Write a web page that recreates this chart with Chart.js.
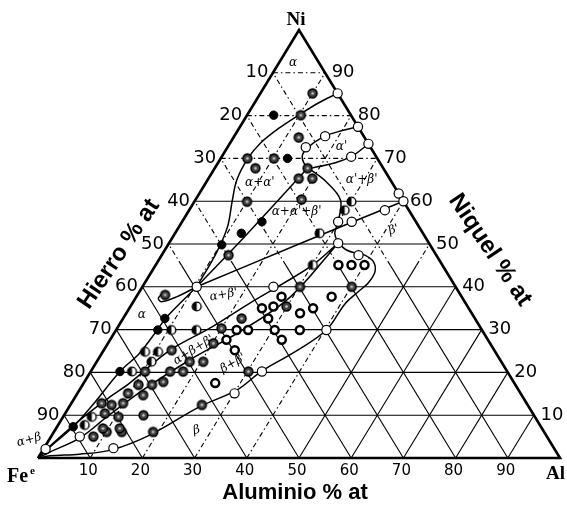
<!DOCTYPE html>
<html>
<head>
<meta charset="utf-8">
<script src="https://cdn.jsdelivr.net/npm/chart.js@4.4.0/dist/chart.umd.min.js"></script>
<style>
  html, body { margin: 0; padding: 0; background: #fff; }
  canvas { display: block; }
</style>
</head>
<body>
<canvas id="ternary" width="567" height="510"></canvas>
<script>
// Fe-Ni-Al diagram. Every composition is [Al %, Ni %], Fe is what is left.
const gridSteps = [10, 20, 30, 40, 50, 60, 70, 80, 90];
const feTickLabels = ['10', '20', '30', '40', '50', '60', '70', '80', '90'];
const niTickLabels = ['90', '80', '70', '60', '50', '40', '30', '20', '10'];
const alTickLabels = ['10', '20', '30', '40', '50', '60', '70', '80', '90'];

// alloys examined, grouped by how the sample was marked
const openPts = [
  [14.8, 85.2], [22.6, 77.4], [26.6, 73.4], [17.4, 75.2], [24.8, 70.4], [15, 72.6],
  [38.2, 61.8], [40, 60], [37.5, 57.9], [29.9, 55.2], [32.5, 55.2], [32.4, 50.2],
  [37.7, 47.4], [10.4, 40], [25.1, 40], [40.3, 29.9], [32.8, 20.2], [30.1, 15.1],
  [13.3, 2.3], [0.4, 2.1], [5.5, 5]
];
const filledPts = [
  [5.1, 80.1], [12.8, 70], [15.3, 55.2], [12.7, 52.5], [10.3, 49.8], [8, 32.6],
  [8, 29.9], [5.6, 20.2], [3.1, 7.3]
];
const halfPts = [
  [30.1, 59.9], [29.8, 57.9], [27.7, 52.5], [30.1, 45.1], [12.7, 35.4], [10.6, 29.9],
  [15.4, 29.9], [8.1, 24.8], [10.6, 24.8], [10.5, 22.5], [7.9, 20.2], [5.1, 7.7], [5.5, 9.6]
];
const hatchedPts = [
  [10, 85.2], [10.3, 80.1], [12.5, 74.9], [5.1, 70], [10.2, 70], [7.8, 67.7], [17.8, 67.7],
  [17.3, 65.3], [19.9, 65.3], [10.1, 59.9], [20.3, 60.4], [12.8, 47.4], [5.3, 38.1],
  [30.2, 40], [40.1, 40], [29.9, 35.4], [22.7, 32.6], [20, 30.3], [13, 25.2], [20.2, 26.8],
  [20.4, 22.5], [17.8, 22.5], [10.4, 20.2], [15.2, 20.2], [17.7, 20.2], [30.2, 20.2],
  [25.2, 12.4], [15.1, 17.8], [13.3, 17.1], [10.7, 17.1], [9.7, 15.1], [12.8, 14.7],
  [9.9, 12.8], [7.9, 12.4], [5.8, 12.8], [15.2, 10], [7.6, 10.4], [10.6, 9.6], [19, 6.1],
  [13, 6.1], [10.1, 6.1], [9, 6.9], [12.2, 6.9], [8.1, 5]
];
const ringPts = [
  [27.8, 37.7], [25.4, 35], [27.4, 35.4], [33.3, 33.8], [35.2, 35], [27.8, 32.6],
  [23.1, 29.9], [25.3, 29.9], [30.4, 29.9], [35.2, 29.9], [22.3, 27.6], [32.9, 27.6],
  [25.1, 25.2], [25.2, 17.5], [35, 45.1], [37.5, 45.1], [40, 45.1], [37.4, 37.7]
];

// phase boundaries
const alphaUpper = [[14.8, 85.2], [12.3, 83], [10.2, 80.5], [7.6, 77], [5.8, 73.5], [5.2, 70],
  [5.6, 65], [7.2, 60], [9.3, 54], [10.2, 48], [10.4, 40]];
const alphaLower = [[10.4, 40], [8.2, 33], [7.9, 30], [7.2, 24.5], [5.6, 20.2], [4.4, 13.1],
  [3.1, 7.3], [1, 2.6], [0, 0]];
const alphaHook = [[10.4, 40], [7.8, 37.7], [5.4, 36.5], [4.4, 37.3], [4.6, 38.3]];
const tieAlphaAlpha2 = [[10.4, 40], [13.8, 52], [17.8, 67.8]];
const tieAlphaBeta2 = [[10.4, 40], [25, 50], [40, 60]];
const alpha2Loop = [[22.6, 77.4], [20, 76.5], [17.4, 75.2], [15.5, 72.7], [15.4, 70.4],
  [17.8, 67.8], [19.3, 68], [22, 68.8], [24.8, 70.4], [26.6, 73.4]];
const alpha2Beta2 = [[17.8, 67.8], [23, 64.5], [27.8, 60.3], [29.9, 55.2], [30.6, 52.5], [32.4, 50.2]];
const betaLoop = [[32.4, 50.2], [34.8, 48.6], [37.2, 47.8], [38.9, 47.4], [41.3, 45.9],
  [42.8, 43.5], [42.8, 40.9], [41.9, 38.8], [40.8, 36], [40.3, 29.9], [36.8, 24.8],
  [32.7, 20.3], [30.2, 15.9], [25, 12], [18.8, 5.4], [13.2, 1.9], [7.5, 0.9], [2.1, 0.5], [0, 0]];
const bandUpper = [[32.4, 50.2], [30.1, 45.1], [26.6, 40.8], [22.5, 36.2], [17.8, 30.4],
  [12.7, 25.2], [8.8, 17.5], [6.5, 14], [3.6, 8.9], [1, 3], [0, 0]];
const bandMiddle = [[32.4, 50.2], [29.5, 37.6], [23.9, 29.5], [17.6, 22.9], [12.2, 15.9],
  [8.4, 9.6], [5.7, 4.7], [1.6, 1.4], [0, 0]];

const phaseNames = ['α', "α'", "α+α'", "α'+β'", "α+α'+β'", "β'", "α+β'", 'α', "α+β+β'", "β+β'", 'β', 'α+β'];
const phaseAt = [[2.7, 92.3], [21.8, 72.7], [10.4, 64.2], [29.5, 65], [20.8, 57.5], [41.5, 53.3],
  [16.5, 38.1], [3.2, 33.4], [17.2, 25.2], [26.3, 22.1], [27.1, 6.5], [-3.8, 4.2]];
const phaseTilt = [0, 0, 0, 0, 0, -20, -10, 0, -32, -30, -15, -15];

const tern = ([al, ni]) => ({ x: al + ni / 2, y: ni });

function marker(paint) {
  const c = document.createElement('canvas');
  c.width = 13; c.height = 13;
  paint(c.getContext('2d'), 6.5, 6.5, 4.4);
  return c;
}
const halfMark = marker((g, cx, cy, r) => {
  g.beginPath(); g.arc(cx, cy, r, 0, Math.PI * 2); g.fillStyle = '#fff'; g.fill();
  g.beginPath(); g.moveTo(cx, cy); g.arc(cx, cy, r, -Math.PI / 2, Math.PI / 2, true); g.closePath();
  g.fillStyle = '#000'; g.fill();
  g.beginPath(); g.arc(cx, cy, r, 0, Math.PI * 2); g.lineWidth = 1.4; g.strokeStyle = '#000'; g.stroke();
});
const hatchMark = marker((g, cx, cy, r) => {
  g.beginPath(); g.arc(cx, cy, r, 0, Math.PI * 2); g.fillStyle = '#444'; g.fill();
  g.lineWidth = 1.6; g.strokeStyle = '#000'; g.stroke();
  g.beginPath(); g.arc(cx, cy, 1.3, 0, Math.PI * 2); g.fillStyle = '#ccc'; g.fill();
});

const datasets = [];
function line(pts, width, dash, order, tension) {
  datasets.push({
    data: pts.map(tern), showLine: true, borderColor: '#000', borderWidth: width,
    borderDash: dash, pointRadius: 0, tension: tension || 0, order: order, clip: false
  });
}

// point sets on top
datasets.push({ data: openPts.map(tern), pointRadius: 4.6, pointBackgroundColor: '#fff',
  pointBorderColor: '#000', pointBorderWidth: 1.2, order: 0, clip: false });
datasets.push({ data: ringPts.map(tern), pointRadius: 4, pointBackgroundColor: '#fff',
  pointBorderColor: '#000', pointBorderWidth: 2.5, order: 0, clip: false });
datasets.push({ data: filledPts.map(tern), pointRadius: 4.2, pointBackgroundColor: '#000',
  pointBorderColor: '#000', pointBorderWidth: 1, order: 0, clip: false });
datasets.push({ data: halfPts.map(tern), pointStyle: halfMark, pointRadius: 4, order: 0, clip: false });
datasets.push({ data: hatchedPts.map(tern), pointStyle: hatchMark, pointRadius: 4, order: 0, clip: false });

// boundaries
[alphaUpper, alphaLower, alphaHook, tieAlphaAlpha2, tieAlphaBeta2, alpha2Loop, alpha2Beta2,
  betaLoop, bandUpper, bandMiddle].forEach(c => line(c, 1.5, [], 1, 0.35));

// outer triangle
line([[0, 0], [100, 0], [0, 100], [0, 0]], 2.6, [], 2);

// 10 % grid, dash-dotted in the upper part and on the low-Al lines
const dashDot = [5, 3, 1.5, 3];
gridSteps.forEach(k => {
  line([[0, k], [100 - k, k]], 1.1, k >= 70 ? dashDot : [], 3);
  if (100 - k > 45) {
    line([[k, 0], [k, 45]], 1.1, k <= 40 ? dashDot : [], 3);
    line([[k, 45], [k, 100 - k]], 1.1, dashDot, 3);
    line([[100 - k, 0], [55 - k, 45]], 1.1, [], 3);
    line([[55 - k, 45], [0, 100 - k]], 1.1, dashDot, 3);
  } else {
    line([[k, 0], [k, 100 - k]], 1.1, k <= 40 ? dashDot : [], 3);
    line([[100 - k, 0], [0, 100 - k]], 1.1, [], 3);
  }
});

const textPlugin = {
  id: 'ternaryText',
  afterDatasetsDraw(chart) {
    const { ctx, scales: { x, y } } = chart;
    const px = (al, ni) => [x.getPixelForValue(al + ni / 2), y.getPixelForValue(ni)];
    ctx.save();
    ctx.fillStyle = '#000';
    ctx.textAlign = 'center';
    ctx.textBaseline = 'middle';

    ctx.font = '18px "DejaVu Sans"';
    gridSteps.forEach((k, i) => {
      const [lx, ly] = px(0, 100 - k);
      ctx.fillText(feTickLabels[i], lx - 16, ly);
      const [rx, ry] = px(k, 100 - k);
      ctx.fillText(niTickLabels[i], rx + 18, ry);
    });
    ctx.font = '15px "DejaVu Sans"';
    gridSteps.forEach((k, i) => {
      const [bx, by] = px(k, 0);
      ctx.fillText(alTickLabels[i], bx - 2, by + 13);
    });

    ctx.font = 'italic 12px "DejaVu Serif"';
    phaseNames.forEach((name, i) => {
      const [tx, ty] = px(phaseAt[i][0], phaseAt[i][1]);
      ctx.save();
      ctx.translate(tx, ty);
      ctx.rotate(phaseTilt[i] * Math.PI / 180);
      ctx.fillText(name, 0, 0);
      ctx.restore();
    });

    // corner names
    ctx.textBaseline = 'alphabetic';
    ctx.font = 'bold 19px "Liberation Serif"';
    ctx.fillText('Ni', 296, 25);
    ctx.textAlign = 'left';
    ctx.fillText('Al', 546, 479);
    ctx.font = 'bold 20px "Liberation Serif"';
    ctx.fillText('Fe', 7, 482);
    ctx.font = 'bold 11px "Liberation Serif"';
    ctx.fillText('e', 30, 474);

    // axis titles
    ctx.textAlign = 'center';
    ctx.textBaseline = 'middle';
    ctx.font = 'bold 22px "Liberation Sans"';
    ctx.fillText('Aluminio % at', 295, 493);
    ctx.font = 'bold 24px "Liberation Sans"';
    ctx.save();
    ctx.translate(119, 254);
    ctx.rotate(-56 * Math.PI / 180);
    ctx.fillText('Hierro % at', 0, 0);
    ctx.restore();
    ctx.save();
    ctx.translate(490, 250);
    ctx.rotate(56 * Math.PI / 180);
    ctx.fillText('Niquel % at', 0, 0);
    ctx.restore();
    ctx.restore();
  }
};

new Chart(document.getElementById('ternary'), {
  type: 'scatter',
  data: { datasets },
  options: {
    responsive: false,
    animation: false,
    events: [],
    layout: { padding: { left: 38, right: 7, top: 30, bottom: 52 } },
    scales: {
      x: { type: 'linear', min: 0, max: 100, display: false },
      y: { type: 'linear', min: 0, max: 100, display: false }
    },
    plugins: { legend: { display: false }, tooltip: { enabled: false } }
  },
  plugins: [textPlugin]
});
</script>
</body>
</html>
